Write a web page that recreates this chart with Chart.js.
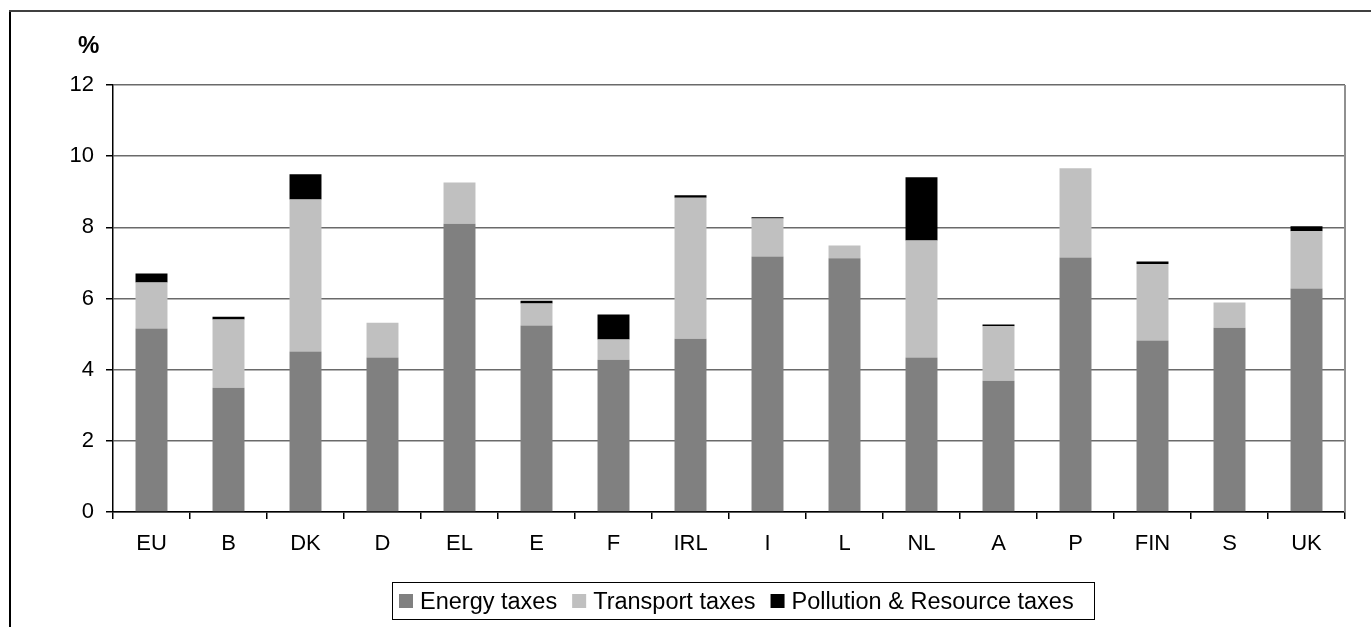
<!DOCTYPE html>
<html lang="en">
<head>
  <meta charset="UTF-8">
  <title>Environmental taxes by type</title>
  <script src="https://cdn.jsdelivr.net/npm/chart.js"></script>
  <style>
    html, body { margin: 0; padding: 0; background: #fff; }
    .wrap { position: relative; width: 1371px; height: 627px; }
  </style>
</head>
<body>
  <div class="wrap">
    <canvas id="taxChart" width="1371" height="627"></canvas>
  </div>

  <script>
    // values (% )
    const countries = ['EU', 'B', 'DK', 'D', 'EL', 'E', 'F', 'IRL', 'I', 'L', 'NL', 'A', 'P', 'FIN', 'S', 'UK'];
    const energyTaxes = [5.16, 3.49, 4.51, 4.34, 8.10, 5.24, 4.28, 4.87, 7.18, 7.13, 4.34, 3.69, 7.15, 4.82, 5.18, 6.28];
    const transportTaxes = [1.29, 1.92, 4.27, 0.98, 1.16, 0.62, 0.57, 3.96, 1.07, 0.36, 3.29, 1.53, 2.51, 2.15, 0.71, 1.61];
    const pollutionTaxes = [0.25, 0.08, 0.71, 0, 0, 0.08, 0.70, 0.07, 0.03, 0, 1.78, 0.05, 0, 0.07, 0, 0.14];
    const yTicks = [0, 2, 4, 6, 8, 10, 12];

    const font = 'Liberation Sans, Arial, sans-serif';

    // frame, "%" label, right border of plot and a boxed legend under the axis
    const decorations = {
      id: 'decorations',
      beforeDraw(chart) {
        const c = chart.ctx;
        c.save();
        c.lineWidth = 2;
        c.strokeStyle = '#000';
        c.beginPath();
        c.moveTo(10, 627);
        c.lineTo(10, 11);
        c.stroke();
        c.strokeStyle = '#404040';
        c.beginPath();
        c.moveTo(9, 11);
        c.lineTo(1371, 11);
        c.stroke();
        c.restore();
      },
      afterDraw(chart) {
        const c = chart.ctx;
        const a = chart.chartArea;
        c.save();
        c.strokeStyle = '#909090';
        c.lineWidth = 2;
        c.beginPath();
        c.moveTo(a.right, a.top);
        c.lineTo(a.right, a.bottom);
        c.stroke();

        c.fillStyle = '#000';
        c.font = 'bold 24px ' + font;
        c.textAlign = 'left';
        c.textBaseline = 'alphabetic';
        c.fillText('%', 78, 53);

        // legend
        c.font = '23.5px ' + font;
        const box = 14, gap = 7, itemGap = 15;
        const items = chart.data.datasets.map(d => ({ label: d.label, color: d.backgroundColor, w: c.measureText(d.label).width }));
        const total = items.reduce((s, it) => s + box + gap + it.w, 0) + itemGap * (items.length - 1);
        let x = Math.round(736 - total / 2);
        const left = x - 7, right = x + total + 20;
        items.forEach(it => {
          c.fillStyle = it.color;
          c.fillRect(x, 594, box, box);
          c.fillStyle = '#000';
          c.fillText(it.label, x + box + gap, 609);
          x += box + gap + it.w + itemGap;
        });
        c.strokeStyle = '#000';
        c.lineWidth = 1;
        c.strokeRect(left + 0.5, 582.5, Math.round(right - left), 37);
        c.restore();
      }
    };

    new Chart(document.getElementById('taxChart'), {
      type: 'bar',
      data: {
        labels: countries,
        datasets: [
          { label: 'Energy taxes', data: energyTaxes, backgroundColor: '#808080' },
          { label: 'Transport taxes', data: transportTaxes, backgroundColor: '#c0c0c0' },
          { label: 'Pollution & Resource taxes', data: pollutionTaxes, backgroundColor: '#000000' }
        ]
      },
      options: {
        responsive: false,
        animation: false,
        devicePixelRatio: 1,
        layout: { padding: { top: 85, right: 26, bottom: 0, left: 0 } },
        datasets: { bar: { categoryPercentage: 1, barPercentage: 0.415 } },
        plugins: {
          tooltip: { enabled: false },
          legend: { display: false }
        },
        scales: {
          x: {
            stacked: true,
            afterFit: (s) => { s.height = 115; },
            grid: { offset: true, drawOnChartArea: false, tickLength: 7, tickColor: '#000', color: '#000', lineWidth: 1.5 },
            border: { color: '#000', width: 1.5 },
            ticks: { color: '#000', padding: 12, font: { family: font, size: 22 }, maxRotation: 0 }
          },
          y: {
            stacked: true,
            min: 0,
            max: 12,
            afterFit: (s) => { s.width = 113; },
            afterBuildTicks: (s) => { s.ticks = yTicks.map(v => ({ value: v })); },
            grid: { color: '#6a6a6a', lineWidth: 1.5, tickLength: 7, tickColor: '#000' },
            border: { color: '#000', width: 1.5 },
            ticks: { color: '#000', padding: 12, font: { family: font, size: 22 } }
          }
        }
      },
      plugins: [decorations]
    });
  </script>
</body>
</html>
